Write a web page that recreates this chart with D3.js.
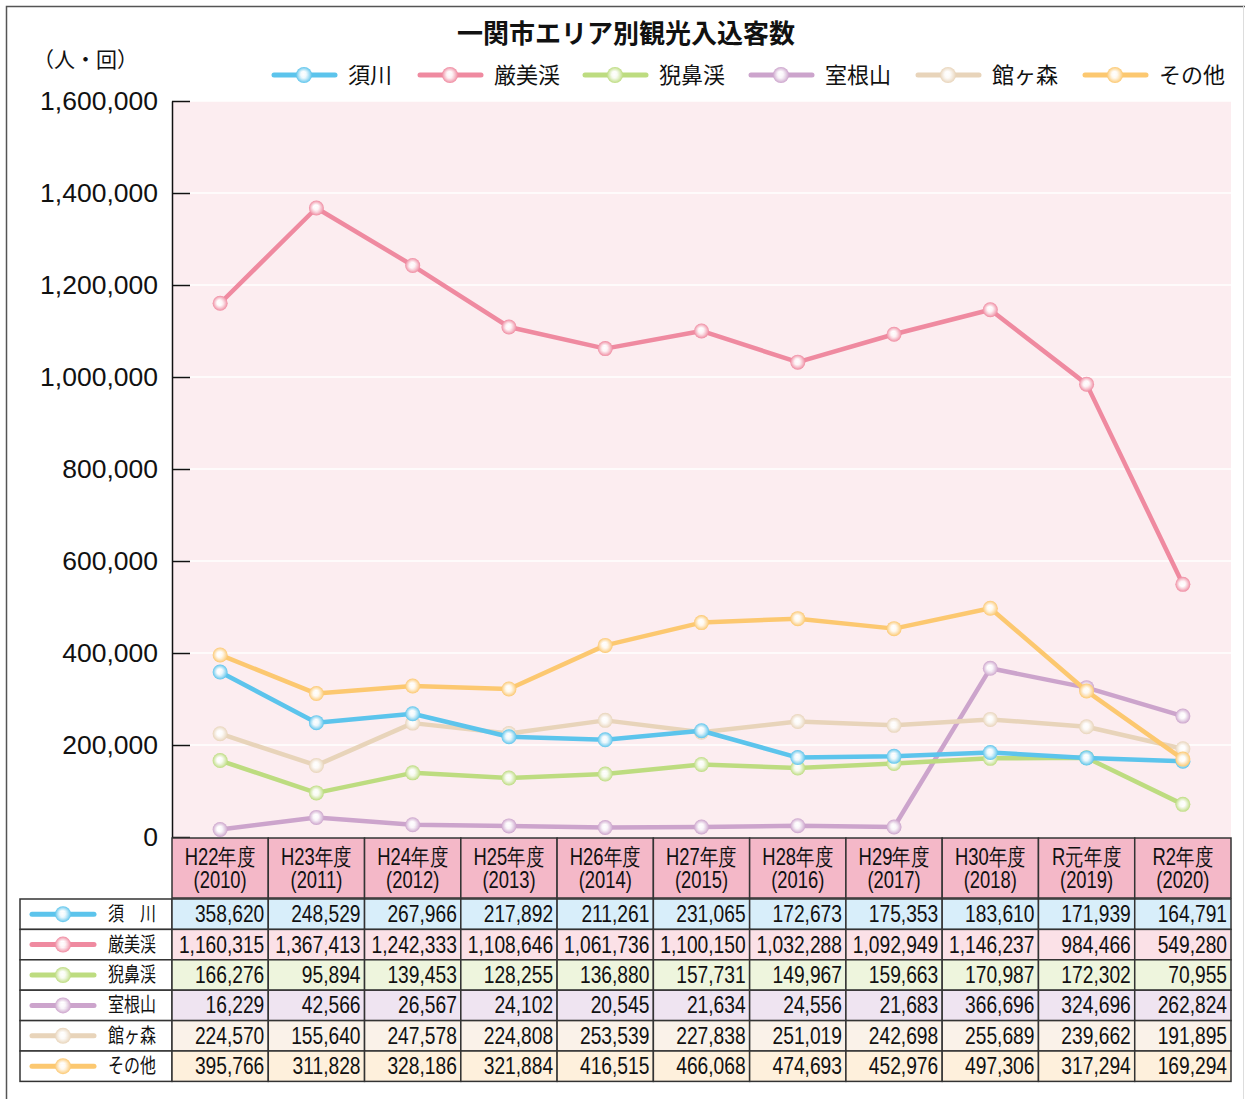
<!DOCTYPE html>
<html>
<head>
<meta charset="utf-8">
<script src="https://cdn.jsdelivr.net/npm/d3@7"></script>
<style>
body { margin: 0; background: #fff; }
svg { display: block; }
.jp { font-family: "Noto Sans CJK JP", "Noto Sans", sans-serif; }
.num { font-family: "Liberation Sans", Arial, sans-serif; }
</style>
</head>
<body>
<script>
// years (header of table)
var years = ["H22年度", "H23年度", "H24年度", "H25年度", "H26年度", "H27年度", "H28年度", "H29年度", "H30年度", "R元年度", "R2年度"];
var yearsAD = ["(2010)", "(2011)", "(2012)", "(2013)", "(2014)", "(2015)", "(2016)", "(2017)", "(2018)", "(2019)", "(2020)"];

var seriesNames = ["須川", "厳美渓", "猊鼻渓", "室根山", "館ヶ森", "その他"];
var tableNames = ["須　川", "厳美渓", "猊鼻渓", "室根山", "館ヶ森", "その他"];

var sukawa   = [358620, 248529, 267966, 217892, 211261, 231065, 172673, 175353, 183610, 171939, 164791];
var genbikei = [1160315, 1367413, 1242333, 1108646, 1061736, 1100150, 1032288, 1092949, 1146237, 984466, 549280];
var geibikei = [166276, 95894, 139453, 128255, 136880, 157731, 149967, 159663, 170987, 172302, 70955];
var muroneyama = [16229, 42566, 26567, 24102, 20545, 21634, 24556, 21683, 366696, 324696, 262824];
var tategamori = [224570, 155640, 247578, 224808, 253539, 227838, 251019, 242698, 255689, 239662, 191895];
var sonota   = [395766, 311828, 328186, 321884, 416515, 466068, 474693, 452976, 497306, 317294, 169294];

var yTicks = [0, 200000, 400000, 600000, 800000, 1000000, 1200000, 1400000, 1600000];

var lineColors = ["#5cc4ec", "#ef8aa0", "#bddc80", "#cca4cc", "#e8d4ba", "#fcc870"];
var rowColors  = ["#d8eefa", "#fbe1e7", "#eef5dd", "#efe4f1", "#faf2e9", "#fef0dc"];

var allSeries = [sukawa, genbikei, geibikei, muroneyama, tategamori, sonota];

var W = 1245, H = 1099;
var plotL = 172, plotR = 1231, plotT = 101, plotB = 837;
var squeeze = 0.8;

var svg = d3.select("body").append("svg")
    .attr("width", W).attr("height", H);

// condensed text helper
function narrowText(parent, tx, ty, str, size, anchor, cls) {
    return parent.append("text").attr("class", cls || "num")
        .attr("transform", "translate(" + tx + "," + ty + ") scale(" + squeeze + ",1)")
        .attr("text-anchor", anchor).attr("font-size", size).attr("fill", "#111")
        .text(str);
}

// gradients for markers
var defs = svg.append("defs");
lineColors.forEach(function(c, i) {
    var g = defs.append("radialGradient").attr("id", "grad" + i)
        .attr("cx", "50%").attr("cy", "50%").attr("r", "50%")
        .attr("fx", "45%").attr("fy", "45%");
    g.append("stop").attr("offset", "0%").attr("stop-color", "#fff");
    g.append("stop").attr("offset", "35%").attr("stop-color", "#fff").attr("stop-opacity", 0.9);
    g.append("stop").attr("offset", "100%").attr("stop-color", c);
});

// outer frame
svg.append("path")
    .attr("d", "M6.5," + H + " V6.5 H" + W)
    .attr("fill", "none").attr("stroke", "#555").attr("stroke-width", 1.5);
svg.append("line").attr("x1", W - 1.5).attr("x2", W - 1.5).attr("y1", 6).attr("y2", H)
    .attr("stroke", "#ddd");

var x = d3.scaleBand().domain(d3.range(years.length)).range([plotL, plotR]);
var y = d3.scaleLinear().domain([0, 1600000]).range([plotB, plotT]);

// plot background
svg.append("rect")
    .attr("x", plotL).attr("y", plotT)
    .attr("width", plotR - plotL).attr("height", plotB - plotT)
    .attr("fill", "#fcedf0");

// white grid
svg.append("g").selectAll("line").data(yTicks.slice(1)).enter().append("line")
    .attr("x1", plotL).attr("x2", plotR)
    .attr("y1", function(d) { return y(d); }).attr("y2", function(d) { return y(d); })
    .attr("stroke", "#fff").attr("stroke-width", 1.5);

// y axis
var yAxis = d3.axisLeft(y).tickValues(yTicks).tickSizeInner(-18).tickSizeOuter(0)
    .tickFormat(d3.format(","));
var ya = svg.append("g").attr("transform", "translate(" + plotL + ",0)").call(yAxis);
ya.select(".domain").attr("stroke", "#111").attr("stroke-width", 1.5);
ya.selectAll(".tick line").attr("stroke", "#111").attr("stroke-width", 1.5);
ya.selectAll(".tick text")
    .attr("x", -14)
    .attr("font-family", "Liberation Sans, Arial, sans-serif")
    .attr("font-size", 26.5).attr("fill", "#111");

// unit label
svg.append("text").attr("class", "jp").attr("x", 33).attr("y", 67)
    .attr("font-size", 21).attr("fill", "#111").text("（人・回）");

// title
svg.append("text").attr("class", "jp").attr("x", 626).attr("y", 43)
    .attr("text-anchor", "middle").attr("font-size", 26).attr("font-weight", "bold")
    .attr("fill", "#111").text("一関市エリア別観光入込客数");

// legend
var legendX = [272, 418, 583, 749, 916, 1083];
var leg = svg.append("g").selectAll("g").data(seriesNames).enter().append("g")
    .attr("transform", function(d, i) { return "translate(" + legendX[i] + ",75)"; });
leg.append("line").attr("x1", 2).attr("x2", 63)
    .attr("stroke", function(d, i) { return lineColors[i]; })
    .attr("stroke-width", 5).attr("stroke-linecap", "round");
leg.append("circle").attr("cx", 32).attr("r", 8)
    .attr("fill", function(d, i) { return "url(#grad" + i + ")"; });
leg.append("text").attr("class", "jp").attr("x", 76).attr("y", 8)
    .attr("font-size", 22).attr("fill", "#111").text(function(d) { return d; });

// lines
var line = d3.line()
    .x(function(d, i) { return x(i) + x.bandwidth() / 2; })
    .y(function(d) { return y(d); });

var drawOrder = [3, 4, 2, 0, 5, 1];
drawOrder.forEach(function(si) {
    var g = svg.append("g");
    g.append("path").datum(allSeries[si]).attr("d", line)
        .attr("fill", "none").attr("stroke", lineColors[si]).attr("stroke-width", 4.5)
        .attr("stroke-linejoin", "round");
    g.selectAll("circle").data(allSeries[si]).enter().append("circle")
        .attr("cx", function(d, i) { return x(i) + x.bandwidth() / 2; })
        .attr("cy", function(d) { return y(d); })
        .attr("r", 7.5)
        .attr("fill", "url(#grad" + si + ")");
});

// table
var headT = 838, headH = 60, rowH = 30.4, tabL = 20;

// header cells
var hd = svg.append("g");
years.forEach(function(d, i) {
    hd.append("rect")
        .attr("x", x(i)).attr("y", headT)
        .attr("width", x.bandwidth()).attr("height", headH)
        .attr("fill", "#f4b8c8").attr("stroke", "#333").attr("stroke-width", 1.5);
    var cx = x(i) + x.bandwidth() / 2;
    narrowText(hd, cx, headT + 27, d, 23, "middle");
    narrowText(hd, cx, headT + 50, yearsAD[i], 23, "middle");
});

// rows
allSeries.forEach(function(vals, si) {
    var ry = headT + headH + 1 + si * rowH;
    var row = svg.append("g");
    row.append("rect").attr("x", tabL).attr("y", ry)
        .attr("width", plotL - tabL).attr("height", rowH)
        .attr("fill", "#fff").attr("stroke", "#333").attr("stroke-width", 1.5);
    row.append("line").attr("x1", tabL + 12).attr("x2", tabL + 74)
        .attr("y1", ry + rowH / 2).attr("y2", ry + rowH / 2)
        .attr("stroke", lineColors[si]).attr("stroke-width", 5).attr("stroke-linecap", "round");
    row.append("circle").attr("cx", tabL + 43).attr("cy", ry + rowH / 2).attr("r", 8)
        .attr("fill", "url(#grad" + si + ")");
    narrowText(row, 156, ry + rowH / 2 + 7, tableNames[si], 20, "end", "jp");
    vals.forEach(function(v, i) {
        row.append("rect")
            .attr("x", x(i)).attr("y", ry)
            .attr("width", x.bandwidth()).attr("height", rowH)
            .attr("fill", rowColors[si]).attr("stroke", "#333").attr("stroke-width", 1.5);
        narrowText(row, x(i) + x.bandwidth() - 4, ry + rowH / 2 + 8, d3.format(",")(v), 24, "end");
    });
});
</script>
</body>
</html>
